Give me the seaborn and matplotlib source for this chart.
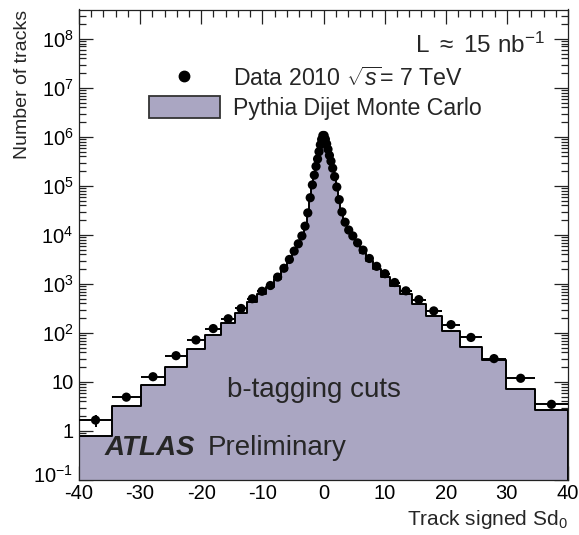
import numpy as np
import pandas as pd
import matplotlib
matplotlib.use("Agg")
import matplotlib.pyplot as plt
import matplotlib.transforms as mtransforms
from matplotlib.lines import Line2D
from matplotlib.patches import Patch
from matplotlib.ticker import FixedLocator, FixedFormatter, LogLocator, MultipleLocator, NullFormatter
import seaborn as sns

# Variable-width bins in signed impact-parameter significance
bin_edges = [-40.0, -34.59, -29.92, -25.87, -22.38, -19.35, -16.73, -14.46, -12.50,
             -10.80, -9.33, -8.06, -6.95, -6.00, -5.16, -4.44, -3.81, -3.26, -2.78,
             -2.36, -1.99, -1.65, -1.36, -1.09, -0.85, -0.62, -0.41, -0.20, 0.0,
             0.20, 0.41, 0.62, 0.85, 1.09, 1.36, 1.65, 1.99, 2.36, 2.78, 3.26, 3.81,
             4.44, 5.16, 6.00, 6.95, 8.06, 9.33, 10.80, 12.50, 14.46, 16.73, 19.35,
             22.38, 25.87, 29.92, 34.59, 40.0]

# Observed track counts per bin (Data 2010)
data_counts = [1.67, 4.9, 12.8, 34.4, 72, 123, 195, 316, 500, 710, 930, 1380, 2090,
               3160, 4680, 6600, 9550, 15100, 28200, 57500, 105000, 166000, 251000,
               355000, 500000, 690000, 890000, 1070000,
               1070000, 900000, 720000, 560000, 420000, 320000, 230000, 155000,
               95000, 52500, 29500, 18200, 12600, 9550, 6900, 4900, 3310, 2290,
               1620, 1070, 724, 479, 282, 148, 81, 30, 11.9, 3.5]

# Statistical uncertainties on the observed counts
data_err = [0.45, 0.8, 1.3, 2.1, 3.0, 3.9, 4.9, 6.2, 7.8, 9.3, 10.6, 12.9, 15.8,
            19.4, 23.6, 28.0, 33.7, 42.4, 57.9, 82.7, 112, 141, 173, 205, 243, 285,
            323, 354,
            354, 327, 295, 263, 232, 202, 170, 138, 107, 79, 59, 46, 38, 33.7, 28.6,
            24.1, 19.8, 16.5, 13.9, 11.3, 9.3, 7.6, 5.8, 4.2, 3.1, 1.9, 1.2, 0.6]

# Pythia dijet Monte Carlo prediction per bin
mc_counts = [0.8, 3.3, 8.7, 20.5, 46, 90, 158, 260, 436, 630, 850, 1260, 1900, 2880,
             4270, 6170, 8900, 14100, 26300, 55000, 100000, 162000, 245000, 347000,
             490000, 676000, 880000, 1060000,
             1060000, 890000, 705000, 550000, 410000, 312000, 225000, 151000, 91000,
             49000, 26900, 16600, 11500, 8500, 6170, 4270, 2880, 2000, 1380, 910,
             615, 385, 225, 112, 52, 28, 7.2, 2.7]

y_tick_values = [1e-1, 1, 10, 1e2, 1e3, 1e4, 1e5, 1e6, 1e7, 1e8]
y_tick_labels = [r"$10^{-1}$", "1", "10", r"$10^{2}$", r"$10^{3}$", r"$10^{4}$",
                 r"$10^{5}$", r"$10^{6}$", r"$10^{7}$", r"$10^{8}$"]

FONT = "Liberation Sans"
sns.set_theme(style="ticks")
plt.rcParams["font.family"] = [FONT, "DejaVu Sans"]
plt.rcParams["mathtext.fontset"] = "custom"
plt.rcParams["mathtext.rm"] = FONT
plt.rcParams["mathtext.it"] = FONT + ":italic"
plt.rcParams["mathtext.bf"] = FONT + ":bold"
plt.rcParams["axes.unicode_minus"] = False

fill_color = "#aaa6c2"
W, H = 579, 535


def fx(px):
    return px / W


def fy(py):
    return 1 - py / H


edges = np.array(bin_edges)
centers = 0.5 * (edges[:-1] + edges[1:])
half_widths = 0.5 * np.diff(edges)
df = pd.DataFrame({"sd0": centers, "mc": mc_counts, "data": data_counts})

fig = plt.figure(figsize=(W / 100, H / 100), dpi=100)
ax = fig.add_axes([fx(79), fy(480), (568 - 79) / W, (480 - 9.5) / H])

# Monte Carlo histogram
sns.histplot(data=df, x="sd0", weights="mc", bins=list(bin_edges), element="step",
             fill=True, color=fill_color, alpha=1.0, edgecolor="black",
             linewidth=1.4, ax=ax, zorder=1)

# Data points with bin-width horizontal bars
ax.errorbar(centers, data_counts, xerr=half_widths, yerr=data_err, fmt="none",
            ecolor="black", elinewidth=1.4, capsize=0, zorder=3)
sns.scatterplot(data=df, x="sd0", y="data", color="black", s=44, edgecolor="none",
                linewidth=0, ax=ax, zorder=4, legend=False)

ax.set_yscale("log")
ax.set_xlim(-40, 40)
ax.set_ylim(1e-1, 10 ** 8.6)

ax.xaxis.set_major_locator(MultipleLocator(10))
ax.xaxis.set_minor_locator(MultipleLocator(2))
ax.yaxis.set_major_locator(FixedLocator(y_tick_values))
ax.yaxis.set_major_formatter(FixedFormatter(y_tick_labels))
ax.yaxis.set_minor_locator(LogLocator(base=10, subs=np.arange(2, 10), numticks=30))
ax.yaxis.set_minor_formatter(NullFormatter())

ax.tick_params(which="both", direction="in", top=True, right=True, colors="#222222",
               labelcolor="black", width=0.9)
ax.tick_params(which="major", length=10, labelsize=14.5)
ax.tick_params(which="minor", length=5)
ax.tick_params(axis="x", which="major", pad=3)
ax.tick_params(axis="y", which="major", pad=4)
for sp in ax.spines.values():
    sp.set_linewidth(0.9)
    sp.set_color("#222222")
ax.grid(False)

# Lift the lowest y label a little so it clears the x label at the corner
low_label = ax.yaxis.get_major_ticks()[0].label1
low_label.set_transform(low_label.get_transform()
                        + mtransforms.ScaledTranslation(0, 6 / 100, fig.dpi_scale_trans))

ax.set_xlabel("")
ax.set_ylabel("Number of tracks", loc="top", fontsize=14)
ax.yaxis.set_label_coords((31 - 79) / (568 - 79), 1.0)
fig.text(fx(568), fy(525), r"Track signed Sd$_{0}$", ha="right", va="baseline",
         fontsize=15)

handles = [
    Line2D([], [], linestyle="none", marker="o", markersize=7.5, color="black"),
    Patch(facecolor=fill_color, edgecolor="#333333", linewidth=1.3),
]
labels = [r"Data 2010 $\sqrt{s}$= 7 TeV", "Pythia Dijet Monte Carlo"]
ax.legend(handles, labels, loc="upper left", frameon=False, fontsize=16.7,
          bbox_to_anchor=(fx(149), fy(67)), bbox_transform=fig.transFigure,
          borderpad=0, handlelength=3.05, handleheight=1.04, handletextpad=0.56,
          labelspacing=0.24, borderaxespad=0)

fig.text(fx(545), fy(53), r"L $\approx$ 15 nb$^{-1}$", ha="right",
         va="baseline", fontsize=17.5)
fig.text(fx(227), fy(397), "b-tagging cuts", ha="left", va="baseline",
         fontsize=20)
fig.text(fx(105), fy(455), "ATLAS", ha="left", va="baseline", fontsize=20,
         fontweight="bold", fontstyle="italic")
fig.text(fx(208), fy(455), "Preliminary", ha="left", va="baseline", fontsize=20)

fig.savefig("out.png", dpi=100)
